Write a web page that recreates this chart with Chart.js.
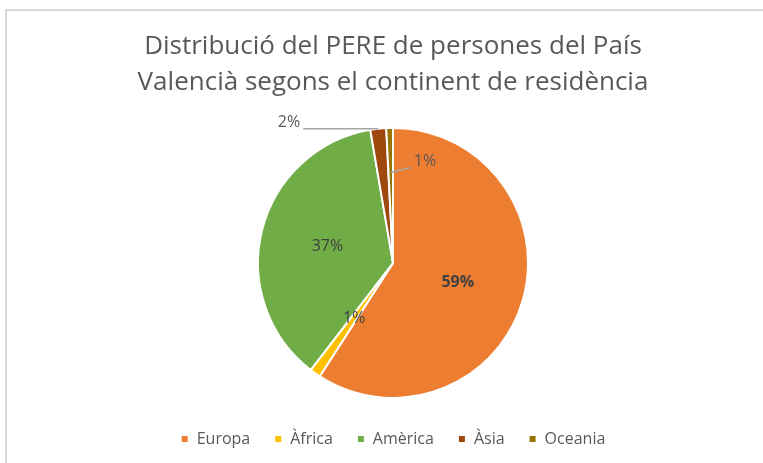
<!DOCTYPE html>
<html>
<head>
<meta charset="utf-8">
<script src="https://cdn.jsdelivr.net/npm/chart.js@4"></script>
<style>
  body { margin: 0; background: #fff; overflow: hidden; }
  #frame {
    position: absolute; left: 5px; top: 9px;
    width: 780px; height: 470px;
    border-left: 2px solid #d9d9d9; border-top: 2px solid #d9d9d9;
  }
  #box { position: absolute; left: 0; top: 0; width: 772px; height: 452px; }
</style>
</head>
<body>
<div id="frame"><div id="box"><canvas id="myChart"></canvas></div></div>
<script>
const ctx = document.getElementById('myChart');

// Continents and their share (%) of the PERE
const labels = ['Europa', 'Àfrica', 'Amèrica', 'Àsia', 'Oceania'];
const values = [59.3, 1.3, 37.0, 1.9, 0.8];
const shownLabels = ['59%', '1%', '37%', '2%', '1%'];
const colors = ['#ED7D31', '#FFC000', '#70AD47', '#9E480E', '#997300'];

// little plugin to draw the % labels, some with a leader line
const pctLabels = {
  id: 'pctLabels',
  afterDatasetsDraw(chart, args, opts) {
    const c = chart.ctx;
    const arcs = chart.getDatasetMeta(0).data;
    arcs.forEach((arc, i) => {
      const p = arc.getProps(['x', 'y', 'startAngle', 'endAngle', 'outerRadius'], true);
      const mid = (p.startAngle + p.endAngle) / 2;
      const co = Math.cos(mid), si = Math.sin(mid);
      const text = shownLabels[i];
      c.save();
      c.fillStyle = '#404040';
      c.font = (i === 0 ? 'bold ' : '') + '16px "Open Sans", sans-serif';
      c.textBaseline = 'middle';
      const call = opts.callouts[i];
      if (!call) {
        const r = p.outerRadius * 0.5;
        c.textAlign = 'center';
        c.fillText(text, p.x + co * r, p.y + si * r);
      } else {
        const ax = p.x + co * p.outerRadius * call.r;
        const ay = p.y + si * p.outerRadius * call.r;
        const ex = ax + call.dx, ey = ay + call.dy;
        c.strokeStyle = '#a6a6a6';
        c.lineWidth = 1.5;
        c.beginPath();
        c.moveTo(ax, ay);
        c.lineTo(ex, ey);
        c.stroke();
        c.fillStyle = '#595959';
        c.textAlign = call.dx < 0 ? 'right' : 'left';
        c.fillText(text, ex + (call.dx < 0 ? -3 : 3), ey + call.ty);
      }
      c.restore();
    });
  }
};

new Chart(ctx, {
  type: 'pie',
  data: {
    labels: labels,
    datasets: [{
      data: values,
      backgroundColor: colors,
      borderColor: '#ffffff',
      borderWidth: 2,
      radius: 135
    }]
  },
  options: {
    responsive: true,
    maintainAspectRatio: false,
    animation: false,
    layout: { padding: { bottom: 6 } },
    plugins: {
      title: {
        display: true,
        text: ['Distribució del PERE de persones del País', 'Valencià segons el continent de residència'],
        color: '#595959',
        font: { family: '"Open Sans", sans-serif', size: 26, weight: 'normal', lineHeight: 1.38 },
        padding: { top: 18, bottom: 18 }
      },
      legend: {
        position: 'bottom',
        labels: {
          color: '#595959',
          boxWidth: 8,
          boxHeight: 8,
          padding: 24,
          font: { family: '"Open Sans", sans-serif', size: 16 }
        }
      },
      tooltip: { enabled: false },
      pctLabels: {
        callouts: {
          3: { r: 1, dx: -75, dy: 0, ty: -6 },
          4: { r: 0.67, dx: 20, dy: -5, ty: -6 }
        }
      }
    }
  },
  plugins: [pctLabels]
});
</script>
</body>
</html>
